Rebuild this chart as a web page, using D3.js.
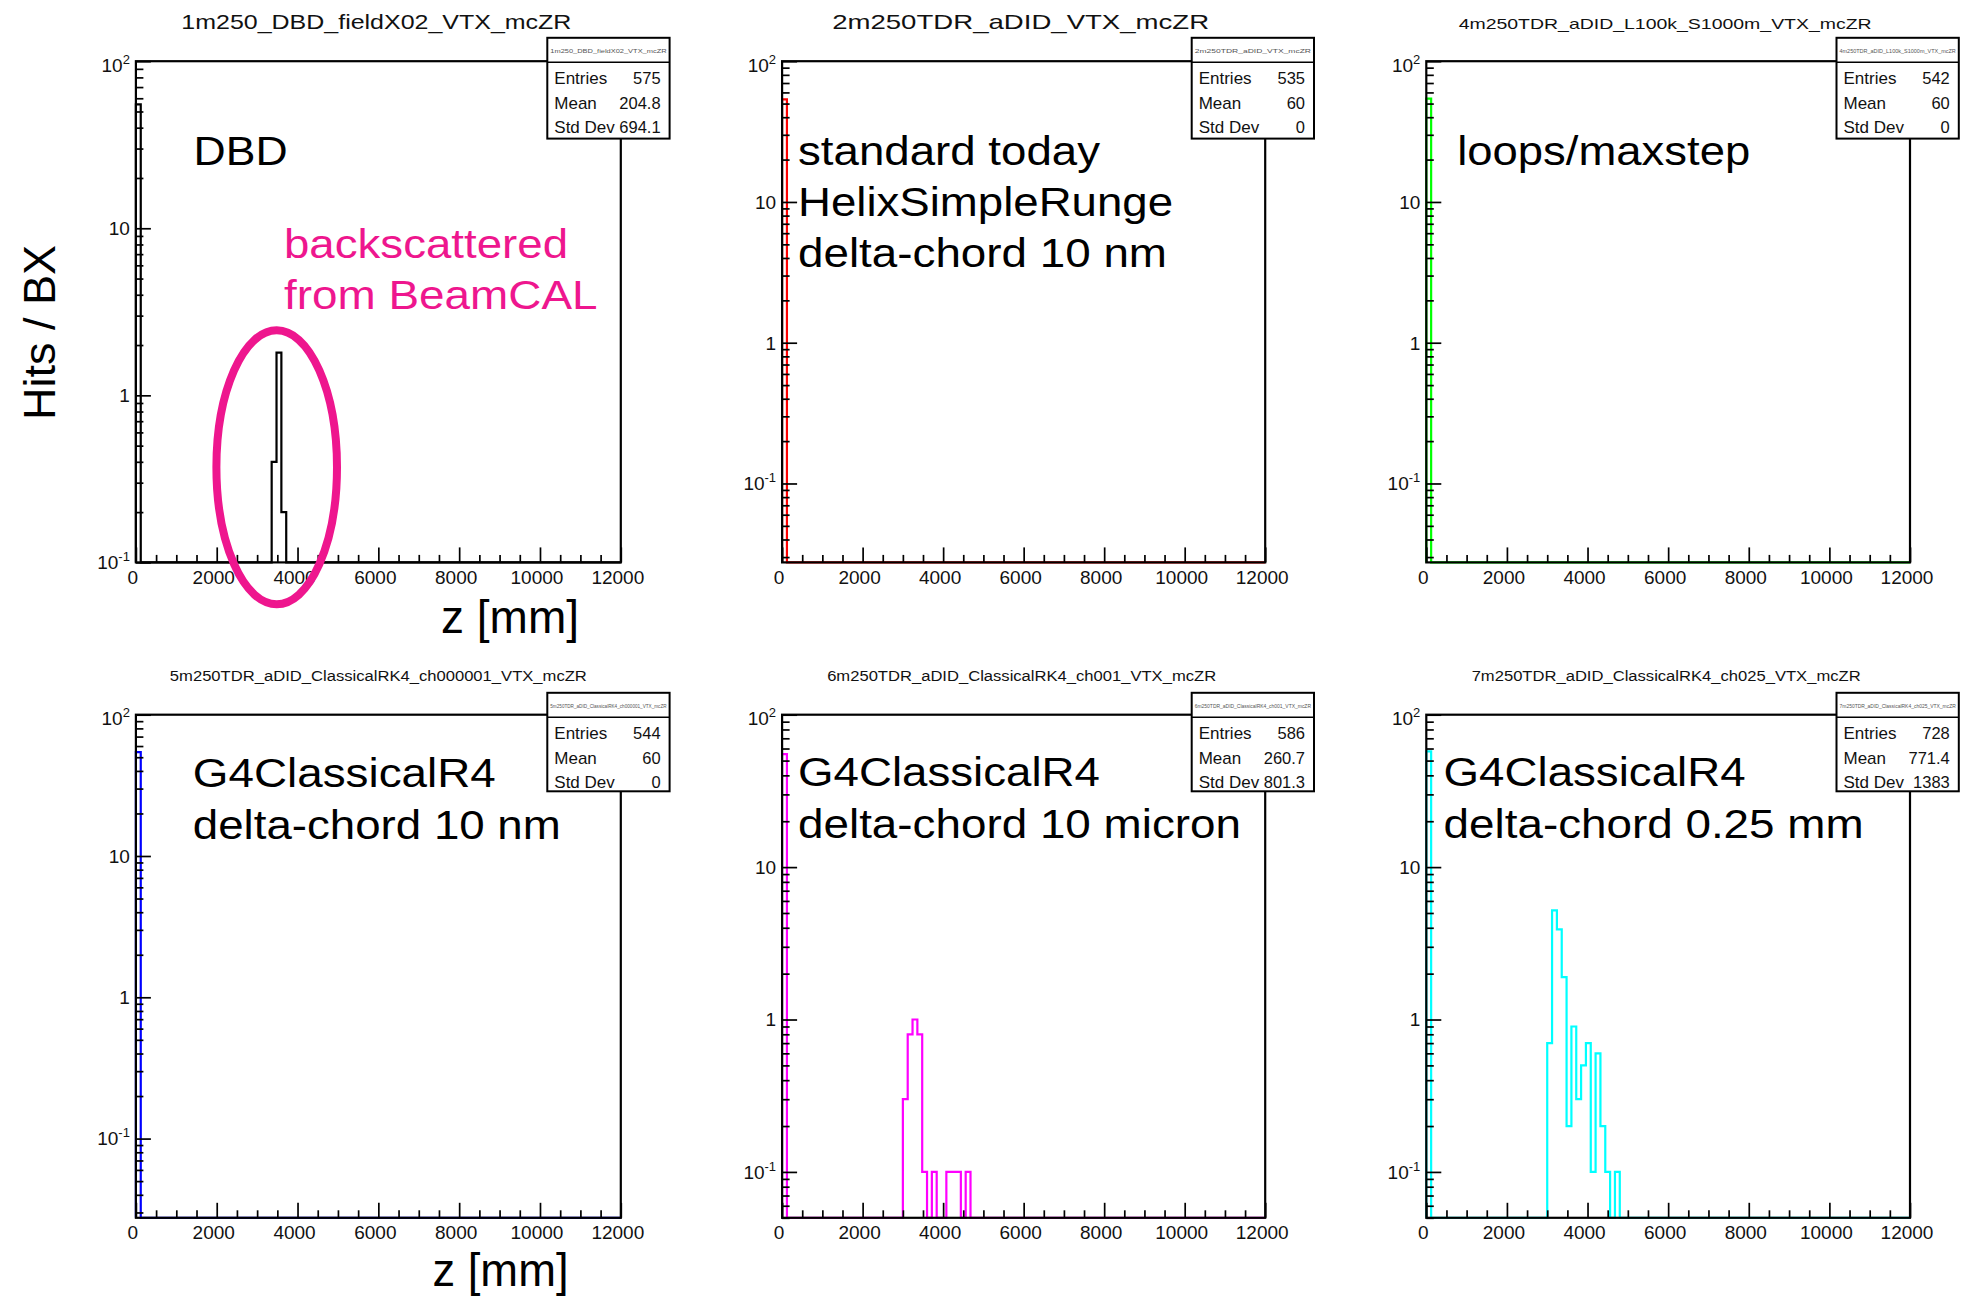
<!DOCTYPE html>
<html>
<head>
<meta charset="utf-8">
<script src="https://cdn.jsdelivr.net/npm/d3@7"></script>
<style>
  html, body { margin: 0; padding: 0; background: #fff; }
  svg { display: block; font-family: "Liberation Sans", Arial, Helvetica, sans-serif; }
</style>
</head>
<body>
<svg id="chart" width="1966" height="1296"></svg>
<script>
// ---------------- data ----------------
const histNames = [
  "1m250_DBD_fieldX02_VTX_mcZR",
  "2m250TDR_aDID_VTX_mcZR",
  "4m250TDR_aDID_L100k_S1000m_VTX_mcZR",
  "5m250TDR_aDID_ClassicalRK4_ch000001_VTX_mcZR",
  "6m250TDR_aDID_ClassicalRK4_ch001_VTX_mcZR",
  "7m250TDR_aDID_ClassicalRK4_ch025_VTX_mcZR"
];
const zRange = [0, 12000];          // mm
const nBins = 100;                  // 120 mm bins
const yMaxAll = 100;
const yMinPerPanel = [0.1, 0.0275, 0.0275, 0.0275, 0.05, 0.05];
const xTickValues = [0, 2000, 4000, 6000, 8000, 10000, 12000];

// bin centres (mm) and hits per BX
const zDBD = [60, 3420, 3540, 3660];
const hitsDBD = [55.1, 0.4, 1.8, 0.2];
const zHelix = [60];
const hitsHelix = [53.5];
const zLoops = [60];
const hitsLoops = [54.2];
const zRK4nm = [60];
const hitsRK4nm = [54.4];
const zRK4um = [60, 3060, 3180, 3300, 3420, 3540, 3780, 4140, 4260, 4380, 4620];
const hitsRK4um = [55.1, 0.3, 0.8, 1.0, 0.8, 0.1, 0.1, 0.1, 0.1, 0.1, 0.1];
const zRK4mm = [60, 3060, 3180, 3300, 3420, 3540, 3660, 3780, 3900, 4020, 4140, 4260, 4380, 4500, 4740];
const hitsRK4mm = [57.4, 0.7, 5.2, 3.9, 1.9, 0.2, 0.9, 0.3, 0.5, 0.7, 0.1, 0.6, 0.2, 0.1, 0.1];

const statEntries = [575, 535, 542, 544, 586, 728];
const statMean = ["204.8", "60", "60", "60", "260.7", "771.4"];
const statStdDev = ["694.1", "0", "0", "0", "801.3", "1383"];

const panelNotes = [
  ["DBD"],
  ["standard today", "HelixSimpleRunge", "delta-chord 10 nm"],
  ["loops/maxstep"],
  ["G4ClassicalR4", "delta-chord 10 nm"],
  ["G4ClassicalR4", "delta-chord 10 micron"],
  ["G4ClassicalR4", "delta-chord 0.25 mm"]
];
const calloutLines = ["backscattered", "from BeamCAL"];
const yAxisTitle = "Hits / BX";
const xAxisTitle = "z [mm]";

// ---------------- layout & style ----------------
const series = [[zDBD, hitsDBD], [zHelix, hitsHelix], [zLoops, hitsLoops],
                [zRK4nm, hitsRK4nm], [zRK4um, hitsRK4um], [zRK4mm, hitsRK4mm]];
const lineColors = ["#000000", "#ff0000", "#00ff00", "#0000ff", "#ff00ff", "#00ffff"];
const pink = "#ee168e";

const frames = [
  {l: 135.9, r: 620.8, t: 61.2, b: 562.4},
  {l: 782.1, r: 1265.2, t: 61.2, b: 562.4},
  {l: 1426.3, r: 1910, t: 61.2, b: 562.4},
  {l: 135.9, r: 620.8, t: 714.7, b: 1217.8},
  {l: 782.1, r: 1265.2, t: 714.7, b: 1217.8},
  {l: 1426.3, r: 1910, t: 714.7, b: 1217.8}
];
const titleStyle = [
  {dx: -2, y: 28.8, fs: 21, w: 390},
  {dx: -3, y: 29.0, fs: 21, w: 377},
  {dx: -3, y: 28.8, fs: 15, w: 413},
  {dx: 0,  y: 680.5, fs: 14, w: 417},
  {dx: -2, y: 680.5, fs: 14, w: 389},
  {dx: -2, y: 680.5, fs: 14, w: 389}
];
const noteLayout = [
  {x: 193.6, y: [165.3], w: [94]},
  {x: 798, y: [165.3, 216.3, 267.3], w: [302, 375, 369]},
  {x: 1457.2, y: [165.3], w: [293]},
  {x: 192.8, y: [786.8, 838.7], w: [303, 368]},
  {x: 798, y: [786, 837.5], w: [302, 443]},
  {x: 1443.6, y: [786, 837.5], w: [302, 420]}
];

const svg = d3.select("#chart");

function decadeParts(v) {
  const e = Math.round(Math.log10(v));
  if (e === 0) return ["1", null];
  if (e === 1) return ["10", null];
  return ["10", String(e)];
}

series.forEach(([zs, hs], p) => {
  const f = frames[p];
  const g = svg.append("g");
  const yMin = yMinPerPanel[p];
  const x = d3.scaleLinear().domain(zRange).range([f.l, f.r]);
  const y = d3.scaleLog().domain([yMin, yMaxAll]).range([f.b, f.t]);

  // fill the 100 bins
  const binW = (zRange[1] - zRange[0]) / nBins;
  const bins = new Array(nBins).fill(0);
  zs.forEach((z, i) => { bins[Math.floor((z - zRange[0]) / binW)] += hs[i]; });

  // histogram outline (step)
  const pts = [[x(zRange[0]), f.b]];
  bins.forEach((v, i) => {
    const yy = v > yMin ? Math.max(y(v), f.t) : f.b;
    pts.push([x(zRange[0] + i * binW), yy]);
    pts.push([x(zRange[0] + (i + 1) * binW), yy]);
  });
  pts.push([x(zRange[1]), f.b]);
  g.append("path")
    .attr("d", d3.line()(pts))
    .attr("fill", "none")
    .attr("stroke", lineColors[p])
    .attr("stroke-width", 2.2)
    .attr("stroke-linejoin", "miter");

  // x axis ticks
  const xMinor = d3.range(zRange[0], zRange[1] + 1, 500).filter(v => v % 2000 !== 0);
  const xAxG = g.append("g").attr("transform", `translate(0,${f.b})`);
  xAxG.append("g").call(d3.axisBottom(x).tickValues(xMinor).tickSize(-7.5).tickSizeOuter(0).tickFormat(""));
  xAxG.append("g").call(d3.axisBottom(x).tickValues(xTickValues).tickSize(-15).tickSizeOuter(0).tickFormat(""));
  xAxG.selectAll(".domain").remove();
  xAxG.selectAll(".tick line").attr("stroke", "#000").attr("stroke-width", 1.7);
  g.selectAll(null).data(xTickValues).enter().append("text")
    .attr("x", d => x(d) - 3)
    .attr("y", f.b + 21.5)
    .attr("text-anchor", "middle")
    .attr("font-size", 19)
    .attr("fill", "#111")
    .text(d => d3.format("d")(d));

  // y axis ticks (log)
  const majors = [], minors = [];
  for (let e = -3; e <= 2; e++) {
    const d = Math.pow(10, e);
    if (d >= yMin * 0.999 && d <= yMaxAll * 1.001) majors.push(d);
    for (let k = 2; k <= 9; k++) {
      const v = k * d;
      if (v >= yMin && v < yMaxAll) minors.push(v);
    }
  }
  const yAxG = g.append("g").attr("transform", `translate(${f.l},0)`);
  yAxG.append("g").call(d3.axisLeft(y).tickValues(minors).tickSize(-7.5).tickSizeOuter(0).tickFormat(""));
  yAxG.append("g").call(d3.axisLeft(y).tickValues(majors).tickSize(-15).tickSizeOuter(0).tickFormat(""));
  yAxG.selectAll(".domain").remove();
  yAxG.selectAll(".tick line").attr("stroke", "#000").attr("stroke-width", 1.7);

  majors.forEach(v => {
    const [base, sup] = decadeParts(v);
    const top = Math.abs(v - yMaxAll) < 1e-9;
    const t = g.append("text")
      .attr("x", f.l - 6)
      .attr("y", y(v) + (top ? 10.5 : 6.8))
      .attr("text-anchor", "end")
      .attr("font-size", 19)
      .attr("fill", "#111");
    t.append("tspan").text(base);
    if (sup) t.append("tspan").attr("dy", -8).attr("font-size", 13).text(sup);
  });

  // frame
  g.append("rect")
    .attr("x", f.l).attr("y", f.t)
    .attr("width", f.r - f.l).attr("height", f.b - f.t)
    .attr("fill", "none").attr("stroke", "#000").attr("stroke-width", 2.2);

  // title
  const ts = titleStyle[p];
  g.append("text")
    .attr("x", (f.l + f.r) / 2 + ts.dx)
    .attr("y", ts.y)
    .attr("text-anchor", "middle")
    .attr("font-size", ts.fs)
    .attr("textLength", ts.w)
    .attr("lengthAdjust", "spacingAndGlyphs")
    .attr("fill", "#111")
    .text(histNames[p]);

  // statistics box
  const topRow = p < 3;
  const bx = f.r - 73.5, bw = 122.3;
  const by = topRow ? 37.8 : 692.8;
  const bh = topRow ? 100.8 : 98.5;
  const div = by + 24.5;
  const rows = [by + 46.5, by + 71, by + 95.5];
  const sb = g.append("g");
  sb.append("rect").attr("x", bx).attr("y", by).attr("width", bw).attr("height", bh)
    .attr("fill", "#fff").attr("stroke", "#000").attr("stroke-width", 2);
  sb.append("line").attr("x1", bx).attr("x2", bx + bw).attr("y1", div).attr("y2", div)
    .attr("stroke", "#000").attr("stroke-width", 1.6);
  sb.append("text")
    .attr("x", bx + bw / 2).attr("y", by + 15)
    .attr("text-anchor", "middle")
    .attr("font-size", 5.5)
    .attr("textLength", bw - 6)
    .attr("lengthAdjust", "spacingAndGlyphs")
    .attr("fill", "#555")
    .text(histNames[p]);
  const labels = ["Entries", "Mean", "Std Dev"];
  const vals = [String(statEntries[p]), statMean[p], statStdDev[p]];
  labels.forEach((lab, i) => {
    sb.append("text").attr("x", bx + 7).attr("y", rows[i])
      .attr("font-size", 17).attr("fill", "#111").text(lab);
    sb.append("text").attr("x", bx + bw - 9).attr("y", rows[i])
      .attr("text-anchor", "end").attr("font-size", 16.5).attr("fill", "#111").text(vals[i]);
  });

  // annotation text
  const nl = noteLayout[p];
  panelNotes[p].forEach((line, i) => {
    g.append("text")
      .attr("x", nl.x).attr("y", nl.y[i])
      .attr("font-size", 41)
      .attr("textLength", nl.w[i])
      .attr("lengthAdjust", "spacingAndGlyphs")
      .attr("fill", "#000")
      .text(line);
  });
});

// callout on the DBD panel
const callout = svg.append("g");
callout.append("ellipse")
  .attr("cx", 276.7).attr("cy", 467.3)
  .attr("rx", 60.3).attr("ry", 137)
  .attr("fill", "none").attr("stroke", pink).attr("stroke-width", 8);
[[258, 284], [309, 313.5]].forEach(([yy, w], i) => {
  callout.append("text")
    .attr("x", 284).attr("y", yy)
    .attr("font-size", 41)
    .attr("textLength", w)
    .attr("lengthAdjust", "spacingAndGlyphs")
    .attr("fill", pink)
    .text(calloutLines[i]);
});

// shared axis titles
svg.append("text")
  .attr("transform", "translate(55,332.5) rotate(-90)")
  .attr("text-anchor", "middle")
  .attr("font-size", 45)
  .attr("textLength", 175)
  .attr("lengthAdjust", "spacingAndGlyphs")
  .attr("fill", "#000")
  .text(yAxisTitle);
[[441, 633, 138], [432.5, 1286, 136]].forEach(([xx, yy, w]) => {
  svg.append("text")
    .attr("x", xx).attr("y", yy)
    .attr("font-size", 46)
    .attr("textLength", w)
    .attr("lengthAdjust", "spacingAndGlyphs")
    .attr("fill", "#000")
    .text(xAxisTitle);
});
</script>
</body>
</html>
